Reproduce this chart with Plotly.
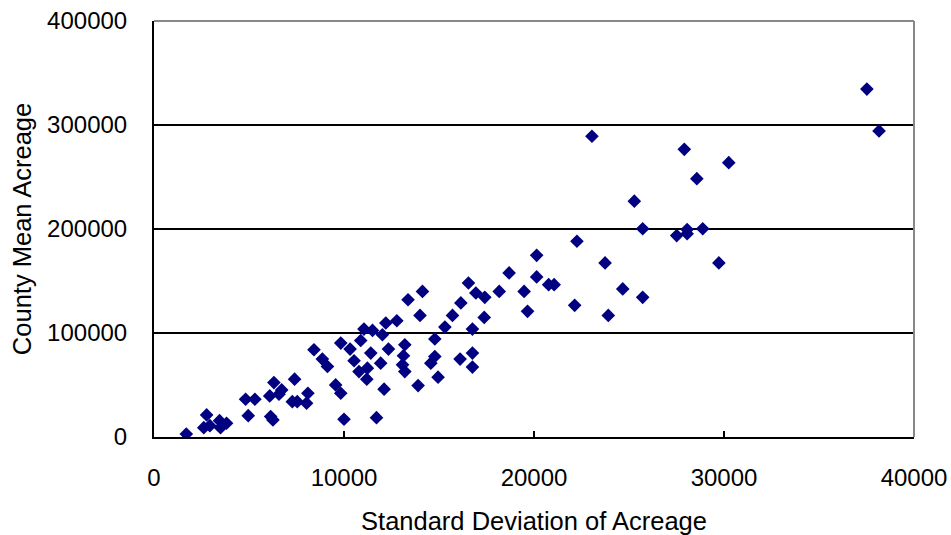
import plotly.graph_objects as go

# Standard deviation of acreage (x) and county mean acreage (y)
std_dev = [
    1700, 2770, 2620, 2940, 3450, 3500, 3820, 4820, 5310, 4960,
    6140, 6260, 6310, 6090, 6720, 6580, 7400, 7280, 7540, 8100,
    8030, 8420, 8860, 9130, 9830, 9560, 9830, 10000, 11710, 10320,
    10530, 10790, 11230, 11200, 11410, 11930, 12110, 10880, 11050, 11500,
    12020, 12200, 12780, 12340, 13200, 13130, 13080, 13200, 13370, 14130,
    14000, 13900, 14780, 14780, 14570, 14950, 15310, 15710, 16150, 16110,
    16760, 16760, 16760, 17380, 16550, 16940, 17410, 18170, 18690, 19480,
    19660, 27910, 30250, 28570, 25280, 25720, 27510, 28060, 28060, 28880,
    29730, 22260, 20140, 20140, 20770, 21060, 23740, 22140, 24670, 25720,
    23910, 23050, 37520, 38160,
]
mean_acreage = [
    2900, 21200, 9000, 10900, 15700, 9000, 13200, 36300, 36300, 20500,
    19600, 16400, 52300, 39500, 45300, 41200, 55600, 34000, 34000, 42100,
    32500, 83900, 74900, 67800, 90300, 50100, 42100, 17100, 18600, 84500,
    73300, 62900, 66200, 55600, 80700, 71000, 46000, 92800, 103800, 102500,
    98300, 109600, 111800, 84500, 88700, 78100, 69400, 62900, 132000, 140000,
    116900, 49400, 94200, 77400, 71000, 57500, 105700, 116900, 128900, 74900,
    80700, 67200, 103800, 115000, 148100, 138500, 134300, 140000, 157800, 140000,
    120800, 276600, 263800, 248400, 226800, 200200, 193700, 199500, 195400, 200200,
    167400, 188200, 174700, 153900, 146500, 146500, 167400, 126600, 142400, 134300,
    116900, 289200, 334500, 294300,
]

x_ticks = [0, 10000, 20000, 30000, 40000]
y_ticks = [0, 100000, 200000, 300000, 400000]

FONT = "Liberation Sans, Arial, sans-serif"

fig = go.Figure(
    go.Scatter(
        x=std_dev,
        y=mean_acreage,
        mode="markers",
        marker=dict(symbol="diamond", size=10.5, color="#000080",
                    line=dict(width=0)),
        showlegend=False,
        hoverinfo="x+y",
    )
)

fig.update_layout(
    width=951,
    height=535,
    margin=dict(l=154, r=37, t=21, b=98, autoexpand=False),
    paper_bgcolor="white",
    plot_bgcolor="white",
    font=dict(family=FONT, size=24, color="black"),
    xaxis=dict(
        automargin=False,
        range=[0, 40000],
        tickvals=x_ticks,
        ticktext=[str(v) for v in x_ticks],
        tickfont=dict(family=FONT, size=24),
        showgrid=False,
        zeroline=False,
        showline=True,
        linecolor="black",
        linewidth=2,
        ticks="inside",
        ticklen=6,
        tickwidth=2,
        tickcolor="black",
        ticklabelstandoff=18,
        title=dict(text="Standard Deviation of Acreage",
                   font=dict(family=FONT, size=25.5), standoff=22),
    ),
    yaxis=dict(
        automargin=False,
        range=[0, 400000],
        tickvals=y_ticks,
        ticktext=[str(v) for v in y_ticks],
        tickfont=dict(family=FONT, size=24),
        showgrid=True,
        gridcolor="black",
        gridwidth=2,
        zeroline=False,
        showline=True,
        linecolor="black",
        linewidth=2,
        ticks="",
        ticklabelstandoff=20,
        title=dict(text="County Mean Acreage",
                   font=dict(family=FONT, size=25.5), standoff=8),
    ),
    shapes=[
        dict(type="line", xref="paper", yref="paper", x0=0, x1=1, y0=1, y1=1,
             line=dict(color="#888888", width=2)),
        dict(type="line", xref="paper", yref="paper", x0=1, x1=1, y0=0, y1=1,
             line=dict(color="#888888", width=2)),
    ],
)

fig.write_html("out.html")
